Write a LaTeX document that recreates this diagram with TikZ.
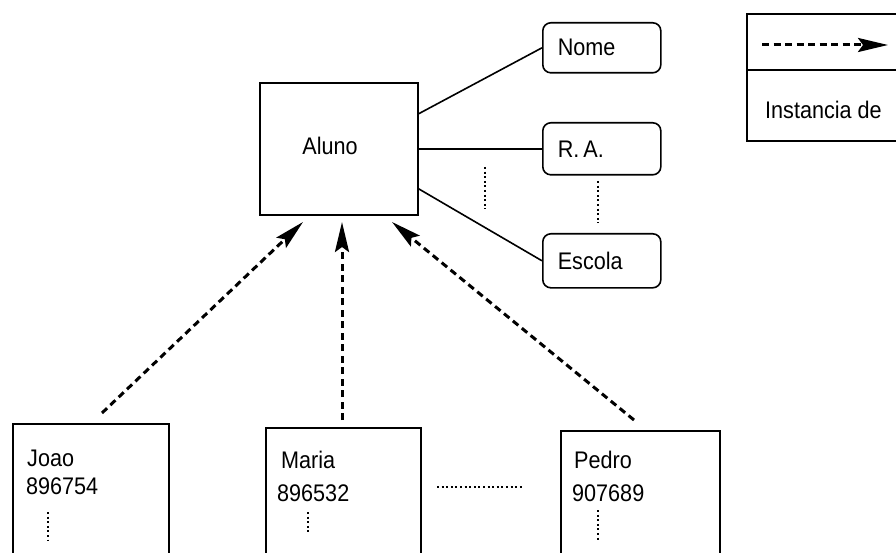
\documentclass[tikz,border=0pt]{standalone}
\usepackage{fontspec}
\setmainfont{Liberation Sans}[FakeStretch=0.9]
\usetikzlibrary{arrows.meta}
\begin{document}
\begin{tikzpicture}[x=1pt,y=-1pt,font=\fontsize{24pt}{28pt}\selectfont,
  box/.style={draw,line width=1.6pt,inner sep=0pt,anchor=north west},
  attr/.style={draw,line width=1.6pt,rounded corners=8pt,anchor=north west,
    minimum height=50pt,text width=88pt,inner xsep=15pt,inner ysep=0pt,align=left},
  txt/.style={anchor=west,inner sep=0pt},
  link/.style={line width=1.6pt},
  dots/.style={line width=2.6pt,dash pattern=on 2pt off 2.6pt},
  inst/.style={line width=3pt,dash pattern=on 7pt off 4.5pt,
    -{Stealth[length=30pt,width=14pt,inset=5pt]}}
]
\useasboundingbox (0,0) rectangle (896,553);
\clip (0,0) rectangle (896,553);

% class
\node[box,minimum width=158pt,minimum height=132pt] (aluno) at (259,82) {};
\node (alunotxt) at (330,146) {Aluno};

% attributes
\node[attr] (nome) at (542,22) {Nome};
\node[attr,minimum height=52pt] (ra) at (542,122) {R.\,A.};
\node[attr,minimum height=54pt] (escola) at (542,233) {Escola};

\draw[link] ([yshift=35pt]aluno.east) -- (nome.west);
\draw[link] (aluno.east |- ra.west) -- (ra.west);
\draw[link] ([yshift=-40pt]aluno.east) -- (escola.west);

\coordinate (d1a) at (485,167);
\coordinate (d1b) at (485,209);
\draw[dots] (d1a) -- (d1b);
\coordinate (d2a) at (598,181);
\coordinate (d2b) at (598,223);
\draw[dots] (d2a) -- (d2b);

% legend
\node[box,minimum width=170pt,minimum height=127pt] (legend) at (746,13) {};
\coordinate (lg1) at (746,70);
\coordinate (lg2) at (916,70);
\draw[link] (lg1) -- (lg2);
\coordinate (la) at (762,45);
\coordinate (lb) at (888,45);
\draw[inst] (la) -- (lb);
\node[txt] (legtxt) at (765,110) {Instancia de};

% instances
\node[box,minimum width=156pt,minimum height=150pt] (joao) at (12,423) {};
\node[box,minimum width=155pt,minimum height=150pt] (maria) at (265,427) {};
\node[box,minimum width=159pt,minimum height=150pt] (pedro) at (560,430) {};

\node[txt] (j1) at (27,458) {Joao};
\node[txt] (j2) at (26,486) {896754};
\node[txt] (m1) at (281,460) {Maria};
\node[txt] (m2) at (277,493) {896532};
\node[txt] (p1) at (574,460) {Pedro};
\node[txt] (p2) at (572,493) {907689};

\coordinate (jd1) at (48,512); \coordinate (jd2) at (48,541);
\draw[dots] (jd1) -- (jd2);
\coordinate (md1) at (308,512); \coordinate (md2) at (308,532);
\draw[dots] (md1) -- (md2);
\coordinate (pd1) at (598,510); \coordinate (pd2) at (598,542);
\draw[dots] (pd1) -- (pd2);
\coordinate (hd1) at (437,487); \coordinate (hd2) at (524,487);
\draw[dots] (hd1) -- (hd2);

% instance-of arrows
\coordinate (jt) at (102,413); \coordinate (jh) at (303,222);
\coordinate (mt) at (342,420); \coordinate (mh) at (342,222);
\coordinate (pt) at (634,420); \coordinate (ph) at (392,222);
\draw[inst] (jt) -- (jh);
\draw[inst] (mt) -- (mh);
\draw[inst] (pt) -- (ph);
\end{tikzpicture}
\end{document}
